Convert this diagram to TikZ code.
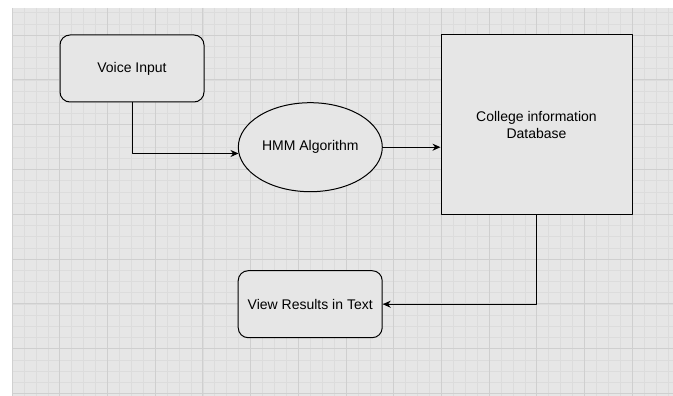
\documentclass[tikz,border=0pt]{standalone}
\usepackage{fontspec}
\setmainfont{Liberation Sans}
\usetikzlibrary{arrows.meta,shapes.geometric}
\definecolor{paper}{HTML}{E6E6E6}
\definecolor{minorgrid}{HTML}{DCDCDC}
\definecolor{majorgrid}{HTML}{CFCFCF}
\tikzset{blk/.style={draw,line width=1pt,fill=paper,text=black,align=center,inner sep=0pt},
  roundblk/.style={blk,rounded corners=10pt,minimum width=144pt,minimum height=67pt}}

\begin{document}
\begin{tikzpicture}[x=1pt,y=-1pt,>={Stealth[length=8pt,width=7pt]},line join=round,font=\fontsize{14}{17}\selectfont]
\useasboundingbox (0,0) rectangle (673,396);
% --- grid paper
\fill[paper] (12,8) rectangle (673,396);
\foreach \i in {1,...,55} {\draw[minorgrid,line width=0.5pt] ({12+\i*11.925},8) -- ({12+\i*11.925},396);}
\foreach \j in {-2,...,32} {\draw[minorgrid,line width=0.5pt] (12,{35+\j*11.2}) -- (673,{35+\j*11.2});}
\foreach \i in {0,4,...,52} {\draw[majorgrid,line width=0.7pt] ({12+\i*11.925},8) -- ({12+\i*11.925},396);}
\foreach \j in {0,4,...,32} {\draw[majorgrid,line width=0.7pt] (12,{35+\j*11.2}) -- (673,{35+\j*11.2});}
% --- blocks
\node[roundblk] (voice) at (132,68.5) {Voice Input};
\node[blk,ellipse,minimum width=144pt,minimum height=89pt] (hmm) at (310.3,147.2) {HMM Algorithm};
\node[blk,rectangle,minimum width=191pt,minimum height=179pt] (db) at (536.5,124.5) {College information\\Database};
\node[roundblk] (view) at (310.2,304.2) {View Results in Text};
% --- connectors
\draw[->,line width=1pt] (voice.south) |- (hmm.185.5);
\draw[->,line width=1pt] (hmm.east) -- (hmm.east -| db.west);
\draw[->,line width=1pt] (db.south) |- (view.east);
\end{tikzpicture}
\end{document}
